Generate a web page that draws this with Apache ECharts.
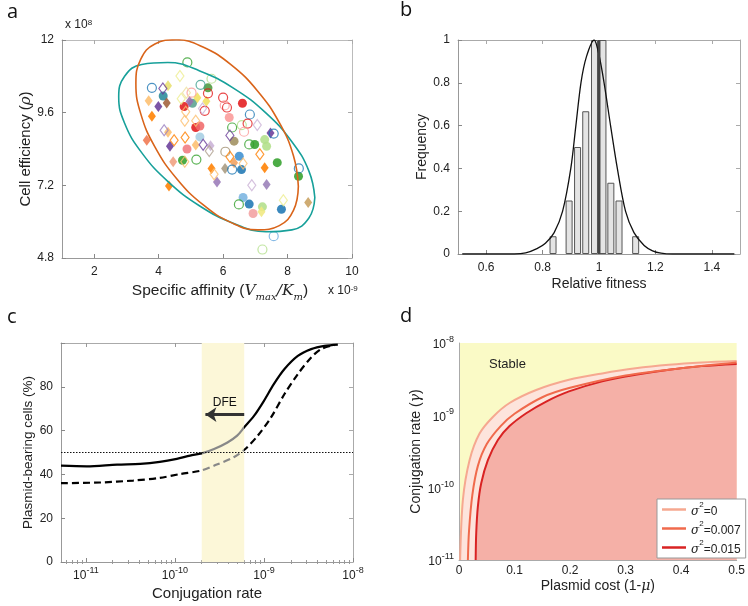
<!DOCTYPE html>
<html>
<head>
<meta charset="utf-8">
<script src="https://cdn.jsdelivr.net/npm/echarts@6.0.0/dist/echarts.min.js"></script>
<style>
html,body{margin:0;padding:0;background:#ffffff;}
#chart{width:748px;height:606px;}
</style>
</head>
<body>
<div id="chart"></div>
<script>
// ---------- palette ----------
const R='#e31a1c', LR='#fb9a99', B='#1f78b4', LB='#a6cee3', G='#33a02c', LG='#b2df8a',
      O='#ff7f00', LO='#fdbf6f', P='#6a3d9a', LP='#cab2d6';

// ---------- Panel a data (x in 1e-9, y in 1e8) ----------
const aFilledCircles = [[4.14,10.15],[5.53,10.42],[4.79,9.80],[5.05,9.91],[6.60,9.91],[6.19,9.44],[5.15,9.11],[5.28,9.16],[5.28,8.80],[4.88,8.40],[4.74,8.03],[6.34,8.66],[6.98,8.55],[7.29,8.71],[7.35,8.49],[6.50,8.16],[7.68,7.95],[6.57,7.72],[8.34,7.50],[6.62,6.80],[6.81,6.58],[7.81,6.41],[6.93,6.27],[7.22,6.49]];
const aFilledCircleColors = ['#2a8a9a','#4d9a3c',R,'#5aa090',R,LR,R,'#f06a6a',LB,'#f07a80',G,'#a09060',G,LG,LG,'#3d8fd0',G,B,G,'#7ab4e0',B,B,'#f2a0a0',LG];
const aFilledDiamonds = [[3.69,9.99],[3.99,9.80],[4.25,9.92],[3.79,9.48],[4.29,10.49],[4.29,8.95],[3.63,8.69],[4.35,8.49],[4.96,9.97],[5.20,10.09],[5.48,9.98],[5.15,8.53],[4.45,7.98],[5.61,8.51],[5.64,7.76],[6.06,7.76],[6.34,7.95],[5.81,7.31],[7.47,8.93],[7.29,7.78],[7.35,7.23],[4.32,7.18],[8.64,6.63],[7.19,6.33]];
const aFilledDiamondColors = [LO,P,'#a0603a',O,'#e8e070',LO,'#f07850',P,'#9a70b0','#f0e060','#f0e060',LO,'#f0a080',LP,O,'#a89a80','#f0a060','#9a7ab8',P,O,'#9a80b8',O,'#c8a060','#f0e880'];
const aOpenCircles = [[3.79,10.42],[4.89,11.26],[5.64,10.72],[5.30,10.52],[5.02,10.26],[5.53,10.24],[6.00,10.10],[6.05,9.84],[6.12,9.77],[5.43,9.66],[6.83,9.54],[6.28,9.11],[6.58,9.19],[6.76,9.24],[6.65,8.97],[6.81,8.55],[6.07,8.31],[6.28,7.72],[5.17,8.05],[7.57,8.91],[8.35,7.76],[6.49,6.57],[7.57,5.52],[7.22,5.08]];
const aOpenCircleColors = [B,G,LG,'#40a090',LR,R,R,LR,R,R,B,G,LG,R,LR,G,'#a09070',B,G,B,B,G,'#6aaae0',LG];
const aOpenDiamonds = [[4.66,10.81],[4.13,10.40],[4.70,10.06],[4.86,10.26],[4.84,9.63],[4.81,9.33],[5.15,9.33],[5.36,9.74],[4.17,9.02],[4.82,8.78],[4.48,8.69],[5.38,8.54],[5.57,8.33],[4.81,7.98],[6.21,8.14],[6.62,7.92],[5.72,7.57],[6.21,8.85],[7.06,9.19],[7.14,8.23],[6.89,7.20],[7.87,6.71]];
const aOpenDiamondColors = ['#eeee90',P,'#eeee90','#eee0a0',LO,LO,LO,LP,'#9a80c0',O,O,P,'#b0a090',LO,O,LO,LO,P,LP,O,LP,'#eeee90'];
// ellipse outlines
const aTealEllipse = [[8.846,6.797],[8.663,7.671],[8.134,8.642],[7.325,9.591],[6.331,10.403],[5.275,10.980],[4.282,11.255],[3.472,11.193],[2.943,10.800],[2.760,10.125],[2.943,9.251],[3.472,8.280],[4.282,7.331],[5.275,6.519],[6.331,5.942],[7.325,5.667],[8.134,5.729],[8.663,6.122],[8.846,6.797]];
const aOrangeEllipse = [[8.335,7.172],[8.183,8.178],[7.745,9.268],[7.075,10.311],[6.252,11.178],[5.376,11.769],[4.554,12.008],[3.883,11.869],[3.445,11.367],[3.293,10.566],[3.445,9.560],[3.883,8.470],[4.554,7.427],[5.376,6.560],[6.252,5.969],[7.075,5.730],[7.745,5.869],[8.183,6.371],[8.335,7.172]];
const aXTicks = [2,4,6,8,10];

// ---------- Panel b data ----------
const bBinCenters = [0.837,0.894,0.924,0.953,0.984,1.014,1.042,1.071,1.130];
const bFrequency  = [0.083,0.25,0.5,0.667,1,1,0.333,0.25,0.083];
const bFitX = [0.515,0.70,0.74,0.78,0.81,0.841,0.871,0.900,0.918,0.936,0.955,0.983,1.0,1.018,1.041,1.065,1.094,1.124,1.16,1.19,1.22,1.26,1.48];
const bFitY = [0,0,0.005,0.025,0.05,0.1,0.2,0.4,0.6,0.8,0.92,1.0,0.93,0.8,0.6,0.4,0.2,0.1,0.04,0.015,0.004,0,0];
const bXTicks = [0.6,0.8,1,1.2,1.4];

// ---------- Panel c data ----------
const cSolidX = [5.25e-12,1.02e-11,2.24e-11,4.07e-11,6.76e-11,1.05e-10,1.48e-10,2.0e-10,2.75e-10,3.89e-10,5.0e-10,6.0e-10,7.76e-10,1.0e-9,1.29e-9,1.70e-9,2.40e-9,3.39e-9,4.79e-9,6.76e-9];
const cSolidY = [44.0,43.7,44.5,44.8,45.7,47.1,48.6,49.6,51.6,54.6,57.7,61.5,66.8,73.6,81.2,88.1,94.1,97.2,98.7,99.3];
const cDashedX = [5.25e-12,1.45e-11,3.39e-11,6.76e-11,1.15e-10,1.95e-10,2.95e-10,4.57e-10,6.17e-10,8.51e-10,1.20e-9,1.70e-9,2.40e-9,3.39e-9,4.37e-9,6.17e-9];
const cDashedY = [36.0,36.3,37.2,38.4,40.2,41.7,44.5,47.8,51.6,57.7,66.0,76.7,85.8,93.4,97.2,99.1];
const cBand = [2e-10, 6e-10];
const cThreshold = 50;
const cArrow = [[6e-10,67.3],[2.2e-10,67.3]];
const cMajor = [1e-11,1e-10,1e-9,1e-8];

// ---------- Panel d data ----------
const dCostS0   = [0.002,0.007,0.019,0.037,0.061,0.091,0.139,0.198,0.258,0.318,0.378,0.437,0.5];
const dRateS0   = [1e-11,6.8e-11,2.4e-10,5.6e-10,9.5e-10,1.48e-9,2.24e-9,3.1e-9,3.8e-9,4.47e-9,5.0e-9,5.37e-9,5.62e-9];
const dCostS7   = [0.016,0.018,0.024,0.034,0.05,0.075,0.1,0.15,0.2,0.3,0.4,0.5];
const dRateS7   = [1e-11,2.5e-11,7.9e-11,2.0e-10,4.0e-10,7.1e-10,1.05e-9,1.78e-9,2.4e-9,3.55e-9,4.47e-9,5.37e-9];
const dCostS15  = [0.030,0.031,0.034,0.040,0.052,0.070,0.091,0.121,0.157,0.198,0.258,0.318,0.378,0.437,0.5];
const dRateS15  = [1e-11,2.34e-11,5.5e-11,1.15e-10,2.4e-10,4.57e-10,7.1e-10,1.07e-9,1.55e-9,2.14e-9,2.95e-9,3.63e-9,4.27e-9,4.79e-9,5.13e-9];
const dLegend = {s0:'0', s7:'0.007', s15:'0.015'};
const dMajor = [1e-11,1e-10,1e-9,1e-8];

// ---------- helpers ----------
const FONT = 'Liberation Sans';
const zip = (xs, ys) => xs.map((x,i)=>[x, ys[i]]);
const items = (pts, cols, filled) => pts.map((p,i)=>({value:p, itemStyle: filled ? {color:cols[i], opacity:0.88} : {color:'rgba(255,255,255,0)', borderColor:cols[i], borderWidth:1.2}}));
const expFmt = v => '{b|10}{e|' + Math.round(Math.log10(v)) + '}';
const expRich = {b:{fontSize:12, fontFamily:FONT, color:'#222', lineHeight:16, verticalAlign:'bottom'}, e:{fontSize:9, fontFamily:FONT, color:'#222', lineHeight:10, verticalAlign:'top'}};
const minorVals = [];
for (let e=-12; e<=-9; e++) for (let m=2; m<=9; m++) minorVals.push(m*Math.pow(10,e));

function axis(o){
  return Object.assign({
    axisLine:{show:true, onZero:false, lineStyle:{color:'#999', width:1}},
    axisTick:{show:true, inside:true, length:4, lineStyle:{color:'#888'}},
    axisLabel:{show:false},
    splitLine:{show:false}
  }, o);
}
const lbl = (extra) => Object.assign({show:true, color:'#222', fontSize:12, fontFamily:FONT}, extra);

const xAxes = [
  axis({gridIndex:0, type:'value', min:1, max:10, position:'bottom',
        axisTick:{show:true, inside:true, length:4, customValues:aXTicks, lineStyle:{color:'#888'}},
        axisLabel:lbl({customValues:aXTicks, margin:8}),
        name:'{n|Specific affinity (}{v|V}{s|max}{v|/K}{s|m}{n|)}', nameLocation:'middle', nameGap:22,
        nameTextStyle:{padding:[0,0,0,26], rich:{n:{fontSize:15.5, fontFamily:FONT, color:'#222', lineHeight:22, verticalAlign:'middle'}, v:{fontSize:15.5, fontFamily:'DejaVu Serif', fontStyle:'italic', color:'#222', lineHeight:22, verticalAlign:'middle'}, s:{fontSize:10, fontFamily:'DejaVu Serif', fontStyle:'italic', color:'#222', lineHeight:14, verticalAlign:'bottom'}}}}),
  axis({gridIndex:0, type:'value', min:1, max:10, position:'top', axisLine:{show:true,onZero:false,lineStyle:{color:'#bbb'}},
        axisTick:{show:true, inside:true, length:4, customValues:aXTicks, lineStyle:{color:'#aaa'}}}),
  axis({gridIndex:1, type:'value', min:0.5, max:1.5, position:'bottom',
        axisTick:{show:true, inside:true, length:4, customValues:bXTicks, lineStyle:{color:'#888'}},
        axisLabel:lbl({customValues:bXTicks, margin:8}),
        name:'Relative fitness', nameLocation:'middle', nameGap:23, nameTextStyle:{fontSize:14, fontFamily:FONT, color:'#222'}}),
  axis({gridIndex:1, type:'value', min:0.5, max:1.5, position:'top', axisLine:{show:true,onZero:false,lineStyle:{color:'#aaa'}},
        axisTick:{show:true, inside:true, length:4, customValues:bXTicks, lineStyle:{color:'#aaa'}}}),
  axis({gridIndex:2, type:'log', min:5.25e-12, max:1e-8, position:'bottom',
        axisTick:{show:true, inside:true, length:4, customValues:cMajor, lineStyle:{color:'#888'}},
        axisLabel:lbl({customValues:cMajor, formatter:expFmt, rich:expRich, margin:4}),
        name:'Conjugation rate', nameLocation:'middle', nameGap:24, nameTextStyle:{fontSize:15, fontFamily:FONT, color:'#222'}}),
  axis({gridIndex:2, type:'log', min:5.25e-12, max:1e-8, position:'bottom', axisLine:{show:false},
        axisTick:{show:true, inside:true, length:2, customValues:minorVals, lineStyle:{color:'#999'}}}),
  axis({gridIndex:2, type:'log', min:5.25e-12, max:1e-8, position:'top', axisLine:{show:true,onZero:false,lineStyle:{color:'#aaa'}},
        axisTick:{show:true, inside:true, length:4, customValues:cMajor, lineStyle:{color:'#999'}}}),
  axis({gridIndex:2, type:'log', min:5.25e-12, max:1e-8, position:'top', axisLine:{show:false},
        axisTick:{show:true, inside:true, length:2, customValues:minorVals, lineStyle:{color:'#999'}}}),
  axis({gridIndex:3, type:'value', min:0, max:0.5, interval:0.1, position:'bottom',
        axisLine:{show:true,onZero:false,lineStyle:{color:'#aaa'}},
        axisTick:{show:false},
        axisLabel:lbl({margin:5}),
        name:'{n|Plasmid cost (1-}{m|μ}{n|)}', nameLocation:'middle', nameGap:19,
        nameTextStyle:{rich:{n:{fontSize:14, fontFamily:FONT, color:'#222'}, m:{fontSize:14, fontFamily:'DejaVu Serif', fontStyle:'italic', color:'#222'}}}})
];
const yAxes = [
  axis({gridIndex:0, type:'value', min:4.8, max:12, interval:2.4, position:'left',
        axisLabel:lbl({margin:8}),
        name:'{n|Cell efficiency (}{v|ρ}{n|)}', nameLocation:'middle', nameGap:27,
        nameTextStyle:{rich:{n:{fontSize:15, fontFamily:FONT, color:'#222'}, v:{fontSize:15, fontFamily:'DejaVu Serif', fontStyle:'italic', color:'#222'}}}}),
  axis({gridIndex:0, type:'value', min:4.8, max:12, interval:2.4, position:'right', axisLine:{show:true,onZero:false,lineStyle:{color:'#bbb'}},
        axisTick:{show:true, inside:true, length:4, lineStyle:{color:'#aaa'}}}),
  axis({gridIndex:1, type:'value', min:0, max:1, interval:0.2, position:'left',
        axisLabel:lbl({margin:8}),
        name:'Frequency', nameLocation:'middle', nameGap:28, nameTextStyle:{fontSize:14, fontFamily:FONT, color:'#222'}}),
  axis({gridIndex:1, type:'value', min:0, max:1, interval:0.2, position:'right', axisLine:{show:true,onZero:false,lineStyle:{color:'#aaa'}},
        axisTick:{show:true, inside:true, length:4, lineStyle:{color:'#aaa'}}}),
  axis({gridIndex:2, type:'value', min:0, max:100, interval:20, position:'left',
        axisLabel:lbl({margin:8, formatter: v => (v===100 ? '' : String(v))}),
        name:'Plasmid-bearing cells (%)', nameLocation:'middle', nameGap:26, nameTextStyle:{fontSize:13.5, fontFamily:FONT, color:'#222'}}),
  axis({gridIndex:2, type:'value', min:0, max:100, interval:20, position:'right', axisLine:{show:true,onZero:false,lineStyle:{color:'#aaa'}},
        axisTick:{show:true, inside:true, length:4, lineStyle:{color:'#aaa'}}}),
  axis({gridIndex:3, type:'log', min:1e-11, max:1e-8, position:'left',
        axisLine:{show:true,onZero:false,lineStyle:{color:'#aaa'}},
        axisTick:{show:false},
        axisLabel:lbl({customValues:dMajor, formatter:expFmt, rich:expRich, margin:5}),
        name:'{n|Conjugation rate (}{g|γ}{n|)}', nameLocation:'middle', nameGap:36,
        nameTextStyle:{rich:{n:{fontSize:14, fontFamily:FONT, color:'#222'}, g:{fontSize:14, fontFamily:'DejaVu Serif', fontStyle:'italic', color:'#222'}}}})
];

const scatterBase = {type:'scatter', xAxisIndex:0, yAxisIndex:0, silent:true};
const series = [
  // panel a
  {type:'line', xAxisIndex:0, yAxisIndex:0, data:aTealEllipse, smooth:0.45, symbol:'none', lineStyle:{color:'#17a09a', width:1.6}, z:3},
  {type:'line', xAxisIndex:0, yAxisIndex:0, data:aOrangeEllipse, smooth:0.45, symbol:'none', lineStyle:{color:'#d9641a', width:1.6}, z:3},
  Object.assign({}, scatterBase, {symbol:'circle', symbolSize:9, data:items(aFilledCircles, aFilledCircleColors, true)}),
  Object.assign({}, scatterBase, {symbol:'diamond', symbolSize:[8,11], data:items(aFilledDiamonds, aFilledDiamondColors, true)}),
  Object.assign({}, scatterBase, {symbol:'circle', symbolSize:9, data:items(aOpenCircles, aOpenCircleColors, false)}),
  Object.assign({}, scatterBase, {symbol:'diamond', symbolSize:[8,11], data:items(aOpenDiamonds, aOpenDiamondColors, false)}),
  // panel b
  {type:'bar', xAxisIndex:2, yAxisIndex:2, data:zip(bBinCenters, bFrequency), barWidth:7,
   itemStyle:{color:'#e4e4e4', borderColor:'#555', borderWidth:1},
   markLine:{silent:true, symbol:'none', label:{show:false}, lineStyle:{color:'#444', width:2.2, type:'solid'}, data:[{xAxis:1}]}},
  {type:'line', xAxisIndex:2, yAxisIndex:2, data:zip(bFitX, bFitY), smooth:0.3, symbol:'none', lineStyle:{color:'#111', width:1.3}, z:4},
  // panel c
  {type:'line', xAxisIndex:4, yAxisIndex:4, data:zip(cSolidX, cSolidY), smooth:0.3, symbol:'none', lineStyle:{width:2.2}, z:4,
   markArea:{silent:true, itemStyle:{color:'#fcf7d8'}, data:[[{xAxis:cBand[0]},{xAxis:cBand[1]}]]},
   markLine:{silent:true, symbol:'none', label:{show:false}, lineStyle:{color:'#111', width:1.1, type:[1.5,1.5]}, data:[{yAxis:cThreshold}]}},
  {type:'line', xAxisIndex:4, yAxisIndex:4, data:zip(cDashedX, cDashedY), smooth:0.3, symbol:'none', lineStyle:{width:2.2, type:[7,4]}, z:4,
   markLine:{silent:true, symbol:['none','arrow'], symbolSize:[11,11],
     lineStyle:{color:'#333', width:3, type:'solid'},
     label:{show:true, formatter:'DFE', position:'insideMiddleTop', distance:6, color:'#111', fontSize:12, fontFamily:FONT},
     data:[[{coord:cArrow[0]},{coord:cArrow[1]}]]}},
  // panel d
  {name:'s0', type:'line', xAxisIndex:8, yAxisIndex:6, data:zip(dCostS0, dRateS0), smooth:0.3, symbol:'none',
   itemStyle:{color:'#f6a890'}, lineStyle:{color:'#f6a890', width:2}, areaStyle:{color:'#fde4dc', opacity:1, origin:'start'}, z:2},
  {name:'s15', type:'line', xAxisIndex:8, yAxisIndex:6, data:zip(dCostS15, dRateS15), smooth:0.3, symbol:'none',
   itemStyle:{color:'#d92323'}, lineStyle:{color:'#d92323', width:2}, areaStyle:{color:'#f5b0a7', opacity:1, origin:'start'}, z:3},
  {name:'s7', type:'line', xAxisIndex:8, yAxisIndex:6, data:zip(dCostS7, dRateS7), smooth:0.3, symbol:'none',
   itemStyle:{color:'#f06a4c'}, lineStyle:{color:'#f06a4c', width:2}, z:4}
];

const option = {
  animation:false,
  backgroundColor:'#ffffff',
  grid:[
    {left:62, top:40, width:290, height:218},
    {left:458, top:40, width:282, height:214},
    {left:61, top:343, width:292, height:219},
    {left:459, top:343, width:279, height:217, show:true, backgroundColor:'#fafac6', borderWidth:0}
  ],
  xAxis:xAxes,
  yAxis:yAxes,
  visualMap:[{type:'piecewise', show:false, dimension:0, seriesIndex:[8,9],
    pieces:[{lt:cBand[0], color:'#000'},{gte:cBand[0], lte:cBand[1], color:'#888'},{gt:cBand[1], color:'#000'}]}],
  legend:{data:[{name:'s0', icon:'rect'},{name:'s7', icon:'rect'},{name:'s15', icon:'rect'}], orient:'vertical', left:657, top:499,
    backgroundColor:'#fff', borderColor:'#999', borderWidth:1,
    padding:[2,5,2,5], itemGap:2, itemWidth:24, itemHeight:2.5,
    formatter: n => '{i|σ}{e|2}{t|=' + dLegend[n] + '}',
    textStyle:{fontSize:12, fontFamily:FONT, color:'#222', rich:{
      i:{fontSize:12, fontFamily:'DejaVu Serif', fontStyle:'italic', color:'#222', lineHeight:17, verticalAlign:'bottom'},
      e:{fontSize:8, fontFamily:FONT, color:'#222', lineHeight:11, verticalAlign:'top'},
      t:{fontSize:12, fontFamily:FONT, color:'#222', lineHeight:17, verticalAlign:'bottom'}}}},
  graphic:[
    {type:'text', left:7, top:2, style:{text:'a', font:'20px "Open Sans"', fill:'#111'}},
    {type:'text', left:400, top:0, style:{text:'b', font:'20px "Open Sans"', fill:'#111'}},
    {type:'text', left:7, top:307, style:{text:'c', font:'20px "Open Sans"', fill:'#111'}},
    {type:'text', left:400, top:306, style:{text:'d', font:'20px "Open Sans"', fill:'#111'}},
    {type:'text', left:65, top:19, style:{text:'x 10{e|8}', font:'12px "Liberation Sans"', fill:'#222', rich:{e:{fontSize:8, verticalAlign:'top', lineHeight:8}}}},
    {type:'text', left:328, top:285, style:{text:'x 10{e|-9}', font:'12px "Liberation Sans"', fill:'#222', rich:{e:{fontSize:8, verticalAlign:'top', lineHeight:8}}}},
    {type:'text', left:489, top:358, style:{text:'Stable', font:'13px "Liberation Sans"', fill:'#222'}},
    {type:'text', left:600, top:430, style:{text:'Unstable', font:'13px "Liberation Sans"', fill:'#222'}}
  ],
  series:series
};
const chart = echarts.init(document.getElementById('chart'), null, {renderer:'canvas'});
chart.setOption(option);
</script>
</body>
</html>
